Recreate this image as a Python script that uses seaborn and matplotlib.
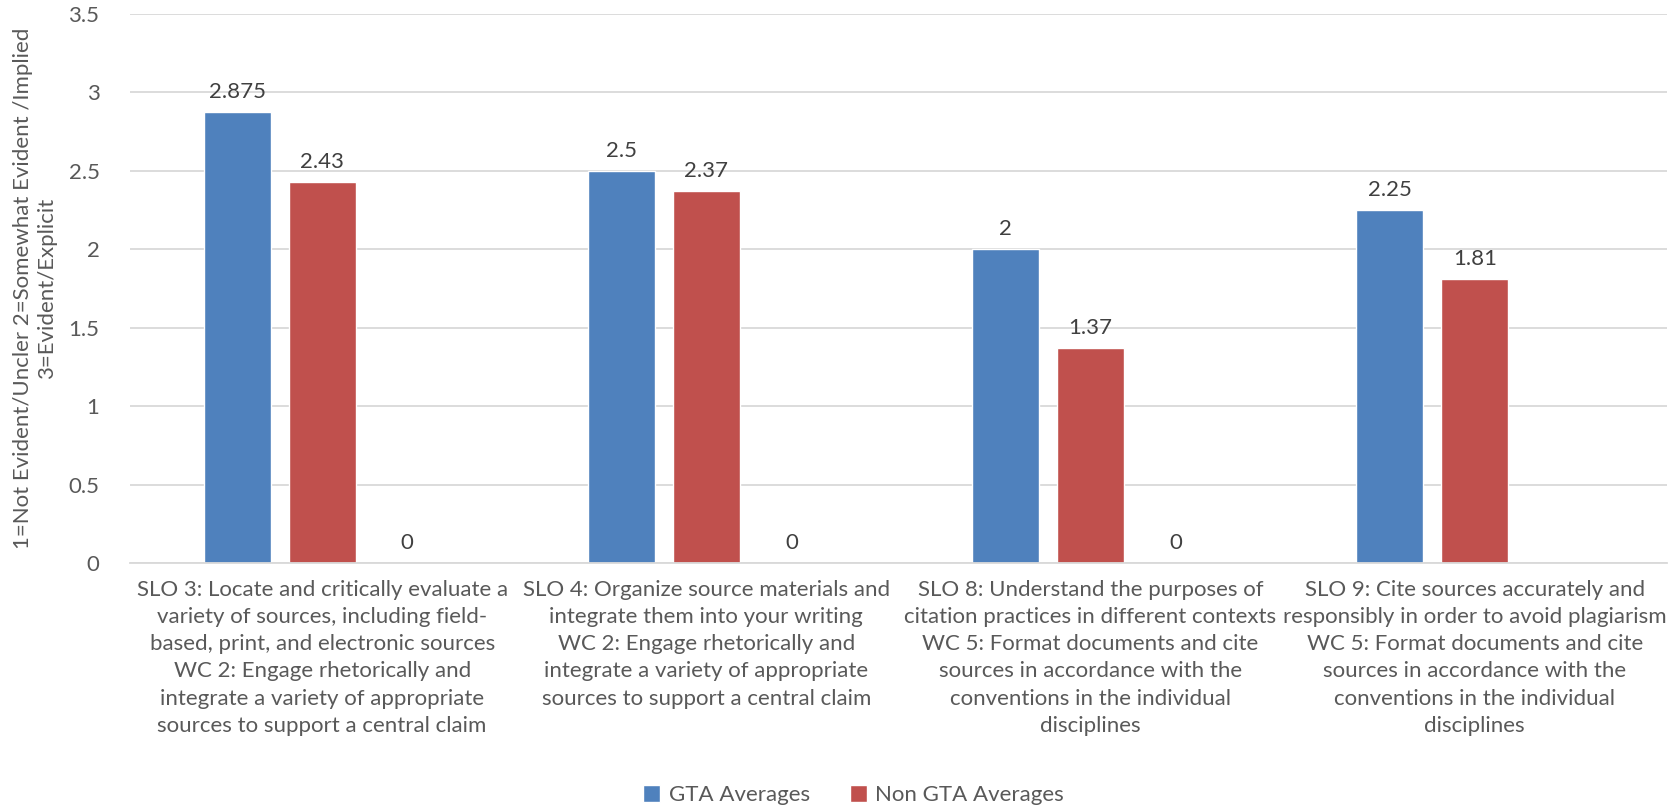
import numpy as np
import pandas as pd
import seaborn as sns
import matplotlib
matplotlib.use("Agg")
import matplotlib.pyplot as plt
from matplotlib import font_manager
from matplotlib.patches import Patch
from matplotlib.ticker import FormatStrFormatter, FixedLocator

categories = [
    "SLO 3: Locate and critically evaluate a\nvariety of sources, including field-\nbased, print, and electronic sources\nWC 2: Engage rhetorically and\nintegrate a variety of appropriate\nsources to support a central claim",
    "SLO 4: Organize source materials and\nintegrate them into your writing\nWC 2: Engage rhetorically and\nintegrate a variety of appropriate\nsources to support a central claim",
    "SLO 8: Understand the purposes of\ncitation practices in different contexts\nWC 5: Format documents and cite\nsources in accordance with the\nconventions in the individual\ndisciplines",
    "SLO 9: Cite sources accurately and\nresponsibly in order to avoid plagiarism\nWC 5: Format documents and cite\nsources in accordance with the\nconventions in the individual\ndisciplines",
]
series_names = ["GTA Averages", "Non GTA Averages", "Series3"]
gta_values = [2.875, 2.5, 2.0, 2.25]
non_gta_values = [2.43, 2.37, 1.37, 1.81]
series3_values = [0, 0, 0, np.nan]
y_ticks = [0, 0.5, 1, 1.5, 2, 2.5, 3, 3.5]
y_label = "1=Not Evident/Uncler 2=Somewhat Evident /Implied\n3=Evident/Explicit"

colors = ["#4F81BD", "#C0504D", "#9BBB59"]
text_color = "#595959"

sns.set_theme(style="white")
available = {f.name for f in font_manager.fontManager.ttflist}
family = "Liberation Sans Narrow" if "Liberation Sans Narrow" in available else "Lato"
plt.rcParams["font.family"] = [family, "DejaVu Sans"]

df = pd.DataFrame({
    "category": categories * 3,
    "series": np.repeat(series_names, len(categories)),
    "value": gta_values + non_gta_values + series3_values,
})

fig = plt.figure(figsize=(16.74, 8.09), dpi=100)
ax = fig.add_axes([0.0777, 0.304, 0.918, 0.679])

sns.barplot(data=df, x="category", y="value", hue="series", order=categories,
            hue_order=series_names, palette=colors, width=0.664, gap=0.21,
            dodge=True, errorbar=None, ax=ax, legend=False, saturation=1)

for cont in ax.containers:
    ax.bar_label(cont, fmt="%g", padding=7, fontsize=16, color="#404040")

ax.set_ylim(0, 3.5)
ax.set_xlim(-0.5, len(categories) - 0.5)
ax.set_yticks(y_ticks)
ax.yaxis.set_major_formatter(FormatStrFormatter("%g"))
ax.yaxis.grid(True, color="#D9D9D9", linewidth=1.3)
ax.set_axisbelow(True)
for side in ["top", "right", "left"]:
    ax.spines[side].set_visible(False)
ax.spines["bottom"].set_color("#D9D9D9")
ax.spines["bottom"].set_linewidth(1.3)

ax.tick_params(axis="y", length=0, labelsize=16, labelcolor=text_color, pad=22)
ax.tick_params(axis="x", which="major", length=0, labelsize=16,
               labelcolor=text_color, pad=12)
ax.xaxis.set_minor_locator(FixedLocator(np.arange(-0.5, len(categories), 1.0)))
ax.tick_params(axis="x", which="minor", length=8, width=1.3, color="#D9D9D9")
for lbl in ax.get_xticklabels():
    lbl.set_horizontalalignment("center")
    lbl.set_multialignment("center")
    lbl.set_linespacing(1.45)

ax.set_xlabel("")
ax.set_ylabel(y_label, fontsize=16, color=text_color, labelpad=8, linespacing=1.3)

handles = [Patch(facecolor=colors[0]), Patch(facecolor=colors[1])]
fig.legend(handles, series_names[:2], loc="center", bbox_to_anchor=(0.51, 0.017),
           ncol=2, frameon=False, fontsize=16, labelcolor=text_color,
           handlelength=0.75, handleheight=0.75, handletextpad=0.4, columnspacing=1.8)

fig.savefig("out.png", dpi=100, facecolor="white")
